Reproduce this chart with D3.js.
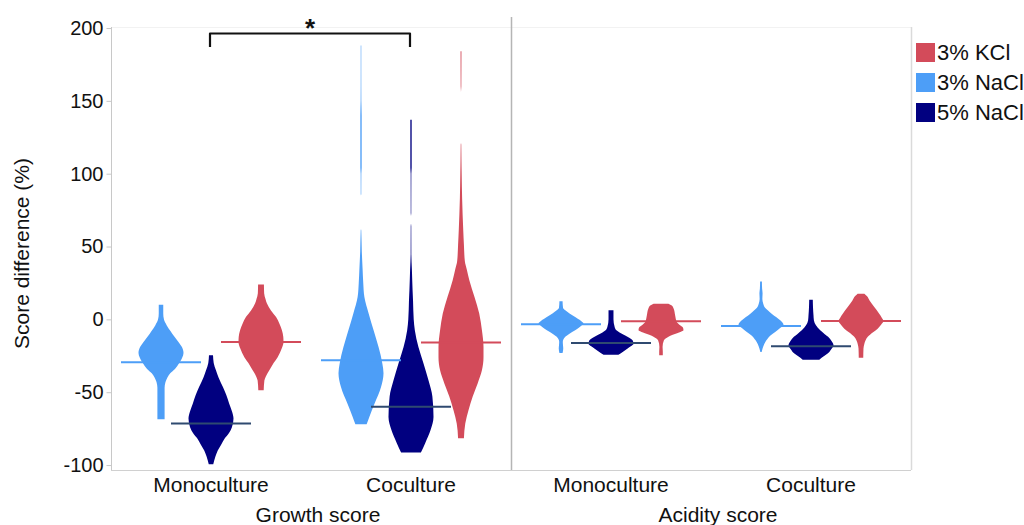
<!DOCTYPE html>
<html>
<head>
<meta charset="utf-8">
<script src="https://cdn.jsdelivr.net/npm/d3@7"></script>
<style>
	body { margin: 0; background: #fff; }
	svg text { font-family: "Liberation Sans", Arial, Helvetica, sans-serif; fill: #111; }
</style>
</head>
<body>
<div id="chart"></div>
<script>
const panels = ["Growth score", "Acidity score"];
const cultures = ["Monoculture", "Coculture"];
const treatments = ["3% NaCl", "5% NaCl", "3% KCl"];
const legendItems = ["3% KCl", "3% NaCl", "5% NaCl"];
const yTicks = [-100, -50, 0, 50, 100, 150, 200];

// violin outlines: [score, relative half width]
const growthMonoNaCl3 = [[10,0.1],[4,0.1],[0,0.13],[-4,0.25],[-8,0.42],[-12,0.6],[-16,0.8],[-19,0.93],[-23,1],[-26,0.95],[-30,0.81],[-34,0.62],[-37,0.41],[-40,0.28],[-43,0.2],[-47,0.16],[-58,0.16],[-68.6,0.16]];
const growthMonoNaCl5 = [[-24.7,0.09],[-30,0.12],[-35,0.22],[-40,0.34],[-46.5,0.53],[-52,0.68],[-58,0.81],[-63,0.93],[-68,1],[-74,0.93],[-78,0.8],[-82,0.6],[-86,0.45],[-90,0.3],[-94,0.2],[-99.5,0.1]];
const growthMonoKCl3 = [[24,0.13],[18,0.14],[14,0.2],[11,0.26],[6,0.45],[1.6,0.67],[-3,0.82],[-7.5,0.93],[-12,0.99],[-15.5,1],[-20,0.92],[-26,0.74],[-30,0.56],[-35,0.37],[-39,0.22],[-42,0.15],[-48.7,0.12]];
const growthCoNaCl3 = [[188,0.012],[170,0.012],[150,0.015],[140,0.03],[104,0.03],[100,0.015],[86,0.012],[85,0],[62,0],[61,0.012],[47,0.035],[35,0.07],[25,0.1],[15.3,0.15],[4,0.34],[-7.5,0.56],[-19,0.78],[-30.4,0.95],[-37,1],[-46.5,0.89],[-58,0.6],[-67,0.37],[-72,0.25]];
const growthCoNaCl5 = [[137,0.03],[104,0.03],[100,0.015],[73,0.012],[71,0],[66,0],[64,0.012],[45,0.015],[34,0.04],[20,0.07],[13,0.09],[0,0.12],[-7.5,0.17],[-19,0.33],[-30.4,0.56],[-42,0.78],[-53,0.95],[-67,1],[-76,0.87],[-85,0.63],[-91.4,0.44]];
const growthCoKCl3 = [[184,0.02],[160,0.015],[156,0],[121,0],[120,0.012],[110,0.02],[100,0.03],[83,0.05],[61,0.1],[51,0.13],[40,0.17],[34,0.26],[26.8,0.37],[15.3,0.6],[4,0.81],[-7.5,0.93],[-19,1],[-26,1],[-35,0.93],[-44,0.74],[-53,0.52],[-62.5,0.33],[-71.5,0.19],[-81.6,0.13]];
const acidMonoNaCl3 = [[12.4,0.07],[8,0.09],[6.2,0.19],[4,0.38],[1.6,0.63],[-1,0.88],[-2.9,1],[-5,0.85],[-7.5,0.63],[-10,0.36],[-12,0.19],[-14,0.1],[-15.5,0.08],[-18,0.09],[-20,0.1],[-23,0.07]];
const acidMonoNaCl5 = [[6.2,0.11],[0,0.11],[-5,0.16],[-7.5,0.24],[-9,0.38],[-11,0.63],[-14.4,0.96],[-16.7,1],[-18.5,0.88],[-20,0.74],[-22,0.55],[-24.3,0.33]];
const acidMonoKCl3 = [[10.8,0.33],[9.5,0.48],[7.4,0.56],[2.7,0.63],[-1.8,0.7],[-4,0.85],[-5.3,0.96],[-7.5,1],[-9,0.8],[-11,0.44],[-13,0.22],[-14.4,0.13],[-19,0.07],[-22,0.08],[-24.7,0.08]];
const acidCoNaCl3 = [[26,0.04],[21,0.05],[18,0.07],[14,0.06],[10.8,0.1],[8,0.18],[6.2,0.3],[3.5,0.5],[1.6,0.67],[-1,0.88],[-3.7,1],[-6,0.85],[-8.7,0.63],[-11,0.42],[-14.4,0.24],[-17,0.14],[-20,0.07],[-22.4,0.03]];
const acidCoNaCl5 = [[13.5,0.08],[8,0.09],[3,0.11],[-0.7,0.13],[-4,0.22],[-7.5,0.41],[-10,0.6],[-12,0.76],[-15,0.92],[-17.8,1],[-20.5,0.9],[-23.5,0.74],[-25.5,0.55],[-27.7,0.37]];
const acidCoKCl3 = [[17.6,0.15],[16,0.26],[13,0.38],[8.5,0.59],[3.9,0.81],[1,0.93],[-1.1,1],[-3.5,0.9],[-6.4,0.74],[-9,0.52],[-12,0.3],[-14.5,0.2],[-16.7,0.15],[-20,0.11],[-26.3,0.1]];

// median per treatment, [Monoculture, Coculture]
const growthMedians = [[-29.5, -71.5, -15.5], [-28, -60, -15.8]];
const acidityMedians = [[-3.4, -16.2, -1.3], [-4.6, -18.5, -1.2]];

const colors = { "3% NaCl": "#4d9ef7", "5% NaCl": "#010080", "3% KCl": "#d34b5a" };
const lineColors = { "3% NaCl": "#4d9ef7", "5% NaCl": "#2f4a70", "3% KCl": "#d34b5a" };

const shapes = [
	[[growthMonoNaCl3, growthMonoNaCl5, growthMonoKCl3], [growthCoNaCl3, growthCoNaCl5, growthCoKCl3]],
	[[acidMonoNaCl3, acidMonoNaCl5, acidMonoKCl3], [acidCoNaCl3, acidCoNaCl5, acidCoKCl3]]
];
const medians = [growthMedians, acidityMedians];

// flatten into one table
const violins = [];
panels.forEach((p, pi) => cultures.forEach((c, ci) => treatments.forEach((t, ti) => {
	violins.push({ panel: p, culture: c, treatment: t, shape: shapes[pi][ci][ti], median: medians[pi][ci][ti] });
})));

const width = 1024, height = 525;
const margin = { top: 27, left: 111, bottom: 55 };
const panelWidth = 400;
const plotBottom = height - margin.bottom;

const svg = d3.select("#chart").append("svg")
	.attr("width", width)
	.attr("height", height);

const panelX = d3.scaleBand().domain(panels).range([margin.left, margin.left + 2 * panelWidth]);
const cultureX = d3.scaleBand().domain(cultures).range([0, panelWidth]);
const treatX = d3.scalePoint().domain(treatments).range([-50, 50]);
const y = d3.scaleLinear().domain([-103.4, 200.7]).range([plotBottom, margin.top]);
const w = d3.scaleLinear().domain([0, 1]).range([0, 22.5]);

const centerOf = d => panelX(d.panel) + cultureX(d.culture) + cultureX.bandwidth() / 2;

// frame
svg.append("line")
	.attr("x1", margin.left).attr("x2", margin.left + 2 * panelWidth)
	.attr("y1", margin.top + 0.5).attr("y2", margin.top + 0.5)
	.attr("stroke", "#f2f2f2");
svg.append("line")
	.attr("x1", margin.left).attr("x2", margin.left + 2 * panelWidth)
	.attr("y1", plotBottom + 0.5).attr("y2", plotBottom + 0.5)
	.attr("stroke", "#d0d0d0");
svg.append("line")
	.attr("x1", panelX(panels[1]) + 0.5).attr("x2", panelX(panels[1]) + 0.5)
	.attr("y1", 17).attr("y2", plotBottom)
	.attr("stroke", "#b5b5b5").attr("stroke-width", 1.5);
svg.append("line")
	.attr("x1", margin.left + 2 * panelWidth + 0.5).attr("x2", margin.left + 2 * panelWidth + 0.5)
	.attr("y1", margin.top).attr("y2", plotBottom)
	.attr("stroke", "#dadada").attr("stroke-width", 1.5);

// y axis
const yAxis = svg.append("g")
	.attr("transform", `translate(${margin.left + 0.5},0)`)
	.call(d3.axisLeft(y).tickValues(yTicks).tickFormat(d => String(d)).tickSize(5).tickPadding(3));
yAxis.select(".domain").attr("stroke", "#c8c8c8").attr("d", `M0,${margin.top}V${plotBottom}`);
yAxis.selectAll(".tick line").attr("stroke", "#c8c8c8");
yAxis.selectAll(".tick text").attr("font-size", 20).attr("fill", "#111")
	.attr("font-family", "'Liberation Sans', Arial, sans-serif");

svg.append("text")
	.attr("transform", `translate(29,${(margin.top + plotBottom) / 2 + 5}) rotate(-90)`)
	.attr("text-anchor", "middle")
	.attr("font-size", 21)
	.text("Score difference (%)");

// category + panel labels
panels.forEach(p => {
	cultures.forEach(c => {
		svg.append("text")
			.attr("x", panelX(p) + cultureX(c) + cultureX.bandwidth() / 2)
			.attr("y", 492)
			.attr("text-anchor", "middle")
			.attr("font-size", 21)
			.text(c);
	});
	svg.append("text")
		.attr("x", panelX(p) + panelWidth / 2 + 7)
		.attr("y", 522)
		.attr("text-anchor", "middle")
		.attr("font-size", 21)
		.text(p);
});

// violins
const area = d3.area()
	.curve(d3.curveMonotoneY)
	.y(d => y(d[0]));

svg.append("g").selectAll("path")
	.data(violins)
	.join("path")
	.attr("fill", d => colors[d.treatment])
	.attr("d", d => {
		const cx = centerOf(d) + treatX(d.treatment);
		return area.x0(p => cx - w(p[1])).x1(p => cx + w(p[1]))(d.shape);
	});

// median lines
svg.append("g").selectAll("line")
	.data(violins)
	.join("line")
	.attr("x1", d => centerOf(d) + treatX(d.treatment) - 40)
	.attr("x2", d => centerOf(d) + treatX(d.treatment) + 40)
	.attr("y1", d => y(d.median))
	.attr("y2", d => y(d.median))
	.attr("stroke", d => lineColors[d.treatment])
	.attr("stroke-width", 2);

// significance bracket between the growth cultures
const bx0 = panelX(panels[0]) + cultureX(cultures[0]) + cultureX.bandwidth() / 2 - 1;
const bx1 = panelX(panels[0]) + cultureX(cultures[1]) + cultureX.bandwidth() / 2 - 1;
svg.append("path")
	.attr("d", `M${bx0},47V33.5H${bx1}V47`)
	.attr("fill", "none")
	.attr("stroke", "#111")
	.attr("stroke-width", 2.2)
	.attr("stroke-linejoin", "round");
svg.append("text")
	.attr("x", (bx0 + bx1) / 2)
	.attr("y", 37)
	.attr("text-anchor", "middle")
	.attr("font-size", 26)
	.attr("font-weight", "bold")
	.text("*");

// legend
const legend = svg.append("g").attr("transform", "translate(916,43)");
legendItems.forEach((t, i) => {
	legend.append("rect")
		.attr("x", 0).attr("y", i * 30)
		.attr("width", 19).attr("height", 19)
		.attr("fill", colors[t]);
	legend.append("text")
		.attr("x", 21).attr("y", i * 30 + 17)
		.attr("font-size", 22)
		.text(t);
});
</script>
</body>
</html>
